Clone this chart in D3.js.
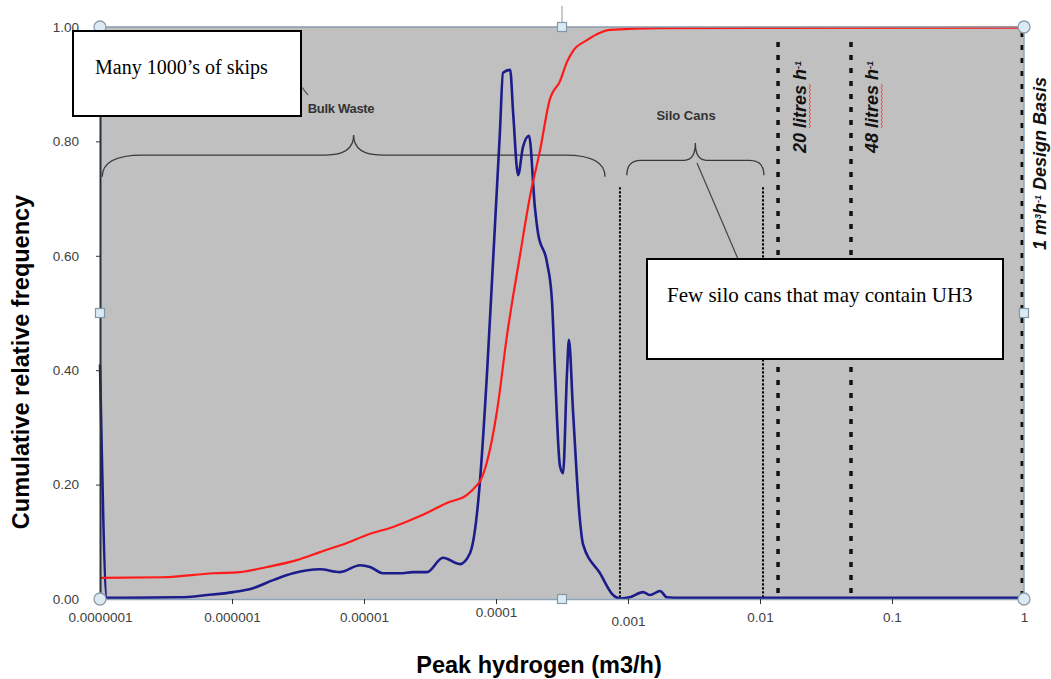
<!DOCTYPE html>
<html>
<head>
<meta charset="utf-8">
<script src="https://cdn.jsdelivr.net/npm/d3@7/dist/d3.min.js"></script>
<style>
  body { margin: 0; background: #fff; }
  svg { display: block; }
  .tick text { font-family: "Liberation Sans", Arial, sans-serif; font-size: 13.5px; fill: #404040; }
</style>
</head>
<body>
<svg id="chart" width="1051" height="679"></svg>
<script>
// decades on the log axis, labels as printed on the chart
const xTicks = [1e-7, 1e-6, 1e-5, 1e-4, 1e-3, 1e-2, 1e-1, 1];
const xTickLabels = ["0.0000001", "0.000001", "0.00001", "0.0001", "0.001", "0.01", "0.1", "1"];
const yTicks = [0, 0.2, 0.4, 0.6, 0.8, 1.0];

// cumulative relative frequency (red)  [peak hydrogen m3/h, fraction]
const cumulative = [
  [1.0e-7, 0.037], [3.0e-7, 0.038], [7.2e-7, 0.045], [1.15e-6, 0.047], [1.84e-6, 0.056],
  [3.1e-6, 0.068], [4.64e-6, 0.082], [7.43e-6, 0.098], [1.05e-5, 0.112], [1.66e-5, 0.126],
  [2.66e-5, 0.145], [4.25e-5, 0.168], [6.03e-5, 0.182], [7.18e-5, 0.199], [7.57e-5, 0.206],
  [8.55e-5, 0.240], [1.02e-4, 0.330], [1.21e-4, 0.460], [1.52e-4, 0.601], [1.81e-4, 0.704],
  [2.15e-4, 0.783], [2.56e-4, 0.874], [3.05e-4, 0.905], [3.45e-4, 0.939], [3.83e-4, 0.958],
  [4.89e-4, 0.977], [6.14e-4, 0.990], [7.31e-4, 0.995], [1.75e-3, 0.998], [1, 0.999]
];

// relative frequency distribution (blue)
const frequency = [
  [1.0e-7, 0.410], [1.13e-7, 0.002], [1.19e-7, 0.002], [4.0e-7, 0.003], [6.5e-7, 0.007],
  [1.02e-6, 0.012], [1.44e-6, 0.019], [2.05e-6, 0.033], [2.9e-6, 0.045], [4.64e-6, 0.052],
  [6.58e-6, 0.047], [9.33e-6, 0.059], [1.11e-5, 0.056], [1.39e-5, 0.045], [1.87e-5, 0.045],
  [2.35e-5, 0.047], [3.0e-5, 0.047], [3.96e-5, 0.072], [5.33e-5, 0.061], [6.35e-5, 0.080],
  [7.18e-5, 0.150], [7.57e-5, 0.208], [8.55e-5, 0.395], [9.49e-5, 0.589], [1.07e-4, 0.815],
  [1.13e-4, 0.920], [1.28e-4, 0.925], [1.35e-4, 0.848], [1.47e-4, 0.741], [1.60e-4, 0.790],
  [1.78e-4, 0.810], [1.97e-4, 0.685], [2.08e-4, 0.640], [2.43e-4, 0.589], [2.65e-4, 0.524],
  [2.80e-4, 0.395], [3.05e-4, 0.233], [3.22e-4, 0.220], [3.45e-4, 0.395], [3.57e-4, 0.453],
  [3.83e-4, 0.330], [4.33e-4, 0.136], [4.56e-4, 0.096], [6.14e-4, 0.045], [7.70e-4, 0.007],
  [8.69e-4, 0.001], [1.03e-3, 0.003], [1.30e-3, 0.012], [1.47e-3, 0.007], [1.75e-3, 0.014],
  [1.97e-3, 0.003], [2.5e-3, 0.002], [1, 0.002]
];

// thin dotted limits of the silo can range, thick dashed design flows
const siloLimits = [8.69e-4, 1.054e-2];
const designFlows = [0.0137, 0.0489, 0.97];

const svg = d3.select("#chart");
const plotLeft = 100, plotRight = 1024, plotTop = 27, plotBottom = 599;

const x = d3.scaleLog().domain([1e-7, 1]).range([plotLeft, plotRight]);
const y = d3.scaleLinear().domain([0, 1]).range([plotBottom, plotTop]);

svg.append("rect")
  .attr("x", plotLeft).attr("y", plotTop)
  .attr("width", plotRight - plotLeft).attr("height", plotBottom - plotTop)
  .attr("fill", "#c0c0c0");

// braces
function brace(x0, x1, level, tip, end, r, r2) {
  const a = x(x0), b = x(x1), m = (a + b) / 2,
        yl = y(level), yt = y(tip), ye = y(end);
  const p = d3.path();
  p.moveTo(a, ye);
  p.quadraticCurveTo(a, yl, a + r, yl);
  p.lineTo(m - r2, yl);
  p.quadraticCurveTo(m, yl, m, yt);
  p.quadraticCurveTo(m, yl, m + r2, yl);
  p.lineTo(b - r, yl);
  p.quadraticCurveTo(b, yl, b, ye);
  return p.toString();
}
svg.append("path").attr("d", brace(1.04e-7, 6.7e-4, 0.776, 0.811, 0.738, 40, 28))
  .attr("fill", "none").attr("stroke", "#3a3a3a").attr("stroke-width", 1.3);
svg.append("path").attr("d", brace(9.8e-4, 1.07e-2, 0.767, 0.797, 0.741, 14, 11))
  .attr("fill", "none").attr("stroke", "#3a3a3a").attr("stroke-width", 1.3);

svg.selectAll(".silo-limit").data(siloLimits).join("line")
  .attr("class", "silo-limit")
  .attr("x1", d => x(d)).attr("x2", d => x(d))
  .attr("y1", y(0.72)).attr("y2", plotBottom)
  .attr("stroke", "#000").attr("stroke-width", 2)
  .attr("stroke-dasharray", "2.4,1.6");

svg.selectAll(".design-flow").data(designFlows).join("line")
  .attr("class", "design-flow")
  .attr("x1", d => x(d)).attr("x2", d => x(d))
  .attr("y1", (d, i) => i == 2 ? 32 : 42).attr("y2", plotBottom)
  .attr("stroke", "#111").attr("stroke-width", 3.5)
  .attr("stroke-dasharray", "5,8");

// curves
const line = d3.line()
  .x(d => x(d[0]))
  .y(d => y(d[1]))
  .curve(d3.curveMonotoneX);

svg.append("path").datum(frequency).attr("d", line)
  .attr("fill", "none").attr("stroke", "#1c1c8a").attr("stroke-width", 2.6)
  .attr("stroke-linejoin", "round");
svg.append("path").datum(cumulative).attr("d", line)
  .attr("fill", "none").attr("stroke", "#ff1a1a").attr("stroke-width", 2.2)
  .attr("stroke-linejoin", "round");

// frame
svg.append("line").attr("x1", plotLeft).attr("x2", plotRight).attr("y1", plotTop).attr("y2", plotTop)
  .attr("stroke", "#8a9aa8").attr("stroke-width", 1.5);
svg.append("line").attr("x1", plotRight).attr("x2", plotRight).attr("y1", plotTop).attr("y2", plotBottom)
  .attr("stroke", "#8ea6ba").attr("stroke-width", 1.5);

// axes
const xAxis = svg.append("g")
  .attr("transform", `translate(0,${plotBottom})`)
  .call(d3.axisBottom(x).tickValues(xTicks).tickFormat((d, i) => xTickLabels[i])
    .tickSizeInner(5).tickSizeOuter(0).tickPadding(8));
xAxis.select(".domain").attr("stroke", "#8ea6ba").attr("stroke-width", 1.5);
xAxis.selectAll(".tick line").attr("stroke", "#333");
const nudge = { "0.0001": -5, "0.001": 4 };
xAxis.selectAll(".tick text").attr("y", (d, i) => 13 + (nudge[xTickLabels[i]] || 0));

const yAxis = svg.append("g")
  .attr("transform", `translate(${plotLeft},0)`)
  .call(d3.axisLeft(y).tickValues(yTicks).tickFormat(d3.format(".2f"))
    .tickSizeInner(4).tickSizeOuter(0).tickPadding(17));
yAxis.select(".domain").attr("stroke", "#26303c").attr("stroke-width", 2);
yAxis.selectAll(".tick line").attr("stroke", "#333");

svg.append("text")
  .attr("transform", "translate(29,362) rotate(-90)")
  .attr("text-anchor", "middle")
  .style("font-family", "'Liberation Sans', Arial, sans-serif")
  .style("font-weight", "bold").style("font-size", "23.5px")
  .text("Cumulative relative frequency");

svg.append("text")
  .attr("x", 539).attr("y", 673)
  .attr("text-anchor", "middle")
  .style("font-family", "'Liberation Sans', Arial, sans-serif")
  .style("font-weight", "bold").style("font-size", "23.5px")
  .text("Peak hydrogen (m3/h)");

// selection handles
const midX = (plotLeft + plotRight) / 2, midY = (plotTop + plotBottom) / 2;
const handleCircles = [[plotLeft, plotTop], [plotRight, plotTop], [plotLeft, plotBottom], [plotRight, plotBottom]];
const handleSquares = [[midX, plotTop], [plotLeft, midY], [plotRight, midY], [midX, plotBottom]];
svg.append("line").attr("x1", midX).attr("x2", midX)
  .attr("y1", 6).attr("y2", plotTop).attr("stroke", "#9aa8b4").attr("stroke-width", 1.2);
svg.selectAll(".hc").data(handleCircles).join("circle")
  .attr("cx", d => d[0]).attr("cy", d => d[1]).attr("r", 6)
  .attr("fill", "#dcebf3").attr("stroke", "#8c9ca8").attr("stroke-width", 1.3);
svg.selectAll(".hs").data(handleSquares).join("rect")
  .attr("x", d => d[0] - 4.5).attr("y", d => d[1] - 4.5).attr("width", 9).attr("height", 9)
  .attr("fill", "#dcebf3").attr("stroke", "#7f98aa").attr("stroke-width", 1.2);

// annotations
const sans = "'Liberation Sans', Arial, sans-serif";
const serif = "'Liberation Serif', 'Times New Roman', serif";

svg.append("text").attr("x", 341).attr("y", 113).attr("text-anchor", "middle")
  .style("font-family", sans).style("font-weight", "bold").style("font-size", "13px")
  .style("letter-spacing", "-0.3px").attr("fill", "#333").text("Bulk Waste");
svg.append("text").attr("x", 686).attr("y", 120).attr("text-anchor", "middle")
  .style("font-family", sans).style("font-weight", "bold").style("font-size", "13px")
  .attr("fill", "#333").text("Silo Cans");

svg.append("line").attr("x1", 296).attr("y1", 80).attr("x2", 308).attr("y2", 95)
  .attr("stroke", "#444").attr("stroke-width", 1.2);
svg.append("line").attr("x1", 697).attr("y1", 163).attr("x2", 738).attr("y2", 259)
  .attr("stroke", "#444").attr("stroke-width", 1.2);

// rotated flow labels; "litres" carries the red spell-check squiggle
function flowLabel(xpos, ypos, parts) {
  const g = svg.append("g").attr("transform", `translate(${xpos},${ypos}) rotate(-90)`);
  const t = g.append("text")
    .style("font-family", sans).style("font-weight", "bold")
    .style("font-style", "italic").style("font-size", "18px").attr("fill", "#111");
  parts.forEach(p => {
    const s = t.append("tspan").text(p.t);
    if (p.sup) s.attr("baseline-shift", "super").style("font-size", "9px");
    if (p.wavy) {
      const n = t.node(), chars = t.text(), start = chars.length - p.t.length;
      const x0 = n.getStartPositionOfChar(start).x,
            x1 = n.getEndPositionOfChar(chars.length - 1).x;
      const w = d3.path();
      w.moveTo(x0, 3);
      for (let xx = x0, k = 0; xx < x1; xx += 2, k++) w.lineTo(xx + 2, k % 2 ? 3 : 4.6);
      g.append("path").attr("d", w.toString())
        .attr("fill", "none").attr("stroke", "#e8403a").attr("stroke-width", 0.9);
    }
  });
}
flowLabel(x(designFlows[0]) + 28, 153, [{ t: "20 " }, { t: "litres", wavy: true }, { t: " h" }, { t: "-1", sup: true }]);
flowLabel(x(designFlows[1]) + 27, 153, [{ t: "48 " }, { t: "litres", wavy: true }, { t: " h" }, { t: "-1", sup: true }]);
flowLabel(x(designFlows[2]) + 24, 250, [{ t: "1 m" }, { t: "3", sup: true }, { t: "h" }, { t: "-1", sup: true }, { t: " Design Basis" }]);

// text boxes
svg.append("rect").attr("x", 73).attr("y", 31).attr("width", 228).attr("height", 85)
  .attr("fill", "#fff").attr("stroke", "#000").attr("stroke-width", 2);
svg.append("text").attr("x", 95).attr("y", 74)
  .style("font-family", serif).style("font-size", "20px").text("Many 1000’s of skips");

svg.append("rect").attr("x", 647).attr("y", 259).attr("width", 356).attr("height", 100)
  .attr("fill", "#fff").attr("stroke", "#000").attr("stroke-width", 2);
svg.append("text").attr("x", 667).attr("y", 302)
  .style("font-family", serif).style("font-size", "21px").text("Few silo cans that may contain UH3");
</script>
</body>
</html>
